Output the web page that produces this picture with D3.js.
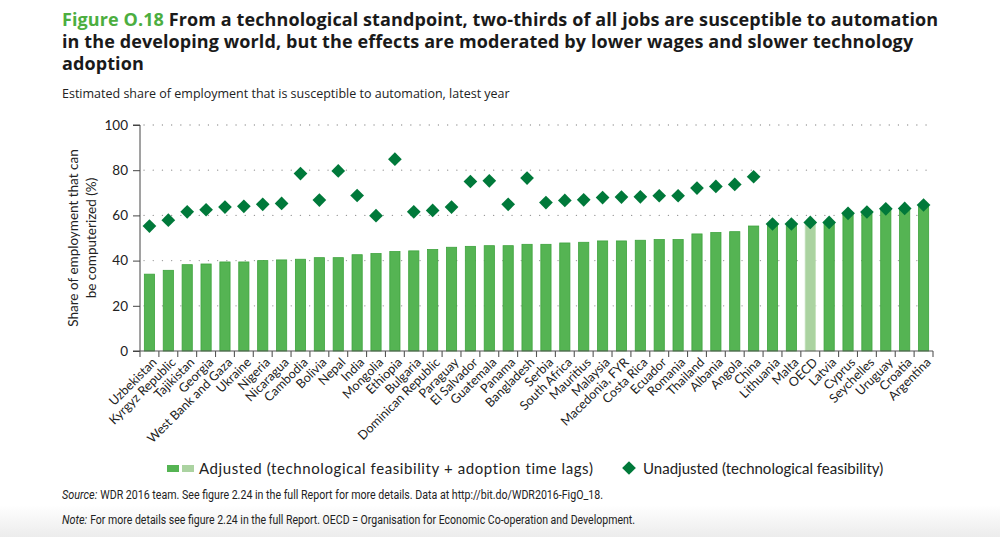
<!DOCTYPE html>
<html>
<head>
<meta charset="utf-8">
<script src="https://cdn.jsdelivr.net/npm/d3@7"></script>
<style>
  body { margin: 0; background: #fff; }
  svg { display: block; }
</style>
</head>
<body>
<svg id="fig" width="1000" height="537"></svg>
<script>

var countries = ['Uzbekistan', 'Kyrgyz Republic', 'Tajikistan', 'Georgia', 'West Bank and Gaza', 'Ukraine',
                 'Nigeria', 'Nicaragua', 'Cambodia', 'Bolivia', 'Nepal', 'India', 'Mongolia', 'Ethiopia',
                 'Bulgaria', 'Dominican Republic', 'Paraguay', 'El Salvador', 'Guatemala', 'Panama',
                 'Bangladesh', 'Serbia', 'South Africa', 'Mauritius', 'Malaysia', 'Macedonia, FYR',
                 'Costa Rica', 'Ecuador', 'Romania', 'Thailand', 'Albania', 'Angola', 'China', 'Lithuania',
                 'Malta', 'OECD', 'Latvia', 'Cyprus', 'Seychelles', 'Uruguay', 'Croatia', 'Argentina'];

var adjusted = [34.0, 35.7, 38.2, 38.5, 39.4, 39.4, 40.0, 40.3, 40.6, 41.3, 41.3, 42.6, 43.1, 44.0,
                44.3, 44.9, 45.9, 46.3, 46.6, 46.6, 47.2, 47.2, 47.8, 48.1, 48.7, 48.7, 49.0, 49.3,
                49.3, 51.8, 52.4, 52.8, 55.3, 56.2, 56.2, 56.6, 56.6, 60.9, 61.0, 62.8, 62.9, 64.3];

var unadjusted = [55.3, 57.9, 61.6, 62.5, 63.7, 64.0, 64.9, 65.3, 78.5, 66.8, 79.7, 68.8, 59.9, 84.9,
                  61.6, 62.2, 63.7, 75.0, 75.3, 64.9, 76.5, 65.7, 66.6, 66.9, 67.9, 68.1, 68.2, 68.7,
                  68.7, 72.1, 72.8, 73.7, 77.1, 56.2, 56.2, 56.9, 56.9, 60.9, 61.5, 62.9, 63.1, 64.6];

var yTicks = [0, 20, 40, 60, 80, 100];

var GREEN = '#55b453', GREEN_EDGE = '#3da33c', LIGHT = '#abd3a1', DARK = '#00793a';
var FONT = 'Lato, "DejaVu Sans", sans-serif';
var NARROW = '"Roboto", "Liberation Sans", sans-serif';

var svg = d3.select('#fig');

// footer shading
var grad = svg.append('defs').append('linearGradient').attr('id', 'foot').attr('x1', 0).attr('y1', 0).attr('x2', 0).attr('y2', 1);
grad.append('stop').attr('offset', '0%').attr('stop-color', '#ffffff');
grad.append('stop').attr('offset', '100%').attr('stop-color', '#ececec');
svg.append('rect').attr('x', 0).attr('y', 505).attr('width', 1000).attr('height', 32).attr('fill', 'url(#foot)');

// title, one text per line
var titleLines = ['  From a technological standpoint, two-thirds of all jobs are susceptible to automation',
                  'in the developing world, but the effects are moderated by lower wages and slower technology',
                  'adoption'];
titleLines.forEach(function(line, i){
    var t = svg.append('text').attr('x', 62).attr('y', 26 + 22 * i)
        .attr('font-family', '"Open Sans", sans-serif').attr('font-weight', 700)
        .attr('font-size', '18px').attr('letter-spacing', '0.1px').attr('fill', '#1a1a1a');
    if( i == 0 ) t.append('tspan').attr('fill', '#4cae3f').text('Figure O.18');
    t.append('tspan').text(line);
});

svg.append('text').attr('x', 62).attr('y', 98).attr('font-family', '"Open Sans", sans-serif')
    .attr('font-size', '12.5px').attr('fill', '#222')
    .text('Estimated share of employment that is susceptible to automation, latest year');

var margin = {left: 140, right: 67, top: 125, bottom: 186};
var W = 1000 - margin.left - margin.right, H = 537 - margin.top - margin.bottom;

var x = d3.scaleBand().domain(countries).range([0, W]).paddingInner(0.46).paddingOuter(0.23);
var y = d3.scaleLinear().domain([0, 100]).range([H, 0]);

var g = svg.append('g').attr('transform', 'translate(' + margin.left + ',' + margin.top + ')');

// dotted gridlines
g.selectAll('.grid').data(yTicks.slice(1)).enter().append('line')
    .attr('x1', 4).attr('x2', W).attr('y1', function(d){ return y(d); }).attr('y2', function(d){ return y(d); })
    .attr('stroke', '#9a9a9a').attr('stroke-width', 1.3).attr('stroke-linecap', 'round')
    .attr('stroke-dasharray', '0.1,9.1');

// bars
g.selectAll('.bar').data(countries).enter().append('rect')
    .attr('x', function(d){ return x(d); })
    .attr('y', function(d, i){ return y(adjusted[i]); })
    .attr('width', x.bandwidth())
    .attr('height', function(d, i){ return H - y(adjusted[i]); })
    .attr('fill', function(d){ return d == 'OECD' ? LIGHT : GREEN; })
    .attr('stroke', function(d){ return d == 'OECD' ? '#c2e0ba' : GREEN_EDGE; })
    .attr('stroke-width', 0.8);

// diamonds
var sym = d3.symbol().type(d3.symbolDiamond2).size(120);
g.selectAll('.dot').data(countries).enter().append('path')
    .attr('d', sym)
    .attr('transform', function(d, i){ return 'translate(' + (x(d) + x.bandwidth() / 2) + ',' + y(unadjusted[i]) + ')'; })
    .attr('fill', DARK);

// y axis
var yAxis = g.append('g').call(d3.axisLeft(y).tickValues(yTicks).tickSize(7).tickPadding(5));
yAxis.select('.domain').attr('stroke', '#444').attr('d', 'M-7,' + H + 'H0V0H-7');
yAxis.selectAll('.tick line').attr('stroke', '#444');
yAxis.selectAll('text').attr('font-family', FONT).attr('font-size', '13.5px').attr('fill', '#222');

// x axis: ticks between bands
var xg = g.append('g').attr('transform', 'translate(0,' + H + ')');
xg.append('line').attr('x1', 0).attr('x2', W).attr('stroke', '#555').attr('stroke-width', 1.2);
var step = x.step();
var bounds = d3.range(countries.length + 1);
xg.selectAll('.xt').data(bounds).enter().append('line')
    .attr('x1', function(i){ return i == countries.length ? W : x(countries[i]) - step * 0.23; })
    .attr('x2', function(i){ return i == countries.length ? W : x(countries[i]) - step * 0.23; })
    .attr('y1', 0).attr('y2', 6).attr('stroke', '#555').attr('stroke-width', 1.1);

xg.selectAll('.xl').data(countries).enter().append('text')
    .attr('transform', function(d){ return 'translate(' + (x(d) + x.bandwidth() / 2 + 5) + ',9) rotate(-45)'; })
    .attr('text-anchor', 'end').attr('dy', '0.35em')
    .attr('font-family', FONT).attr('font-size', '12.6px').attr('fill', '#222')
    .text(function(d){ return d; });

// y label
var yl = svg.append('text').attr('transform', 'translate(78,238) rotate(-90)')
    .attr('text-anchor', 'middle').attr('font-family', FONT).attr('font-size', '13.5px').attr('fill', '#222');
yl.append('tspan').attr('x', 0).attr('y', 0).text('Share of employment that can');
yl.append('tspan').attr('x', 0).attr('y', 18).text('be computerized (%)');

// legend
var lg = svg.append('g').attr('transform', 'translate(0,469)');
lg.append('rect').attr('x', 167).attr('y', -4).attr('width', 12).attr('height', 7).attr('fill', GREEN);
lg.append('rect').attr('x', 182).attr('y', -4).attr('width', 12).attr('height', 7).attr('fill', LIGHT);
lg.append('text').attr('x', 199).attr('y', 0).attr('dy', '0.35em').attr('font-family', FONT).attr('font-size', '15px')
    .attr('letter-spacing', '0.6px').attr('fill', '#222')
    .text('Adjusted (technological feasibility + adoption time lags)');
lg.append('path').attr('d', sym).attr('transform', 'translate(629,-1)').attr('fill', DARK);
lg.append('text').attr('x', 643).attr('y', 0).attr('dy', '0.35em').attr('font-family', FONT).attr('font-size', '15px')
    .attr('fill', '#222')
    .text('Unadjusted (technological feasibility)');

// notes: italic lead word, then condensed rest
function note( yy, lead, rest, endX ){
    var a = svg.append('text').attr('x', 62).attr('y', yy).attr('font-family', NARROW).attr('font-size', '12.5px')
        .attr('font-style', 'italic').attr('fill', '#222').attr('transform', 'translate(62,0) scale(0.87,1) translate(-62,0)')
        .text(lead);
    var w = a.node().getComputedTextLength() * 0.87;
    var x0 = 62 + w + 3;
    svg.append('text').attr('x', x0).attr('y', yy).attr('font-family', NARROW).attr('font-size', '12.5px')
        .attr('fill', '#222').attr('textLength', endX - x0).attr('lengthAdjust', 'spacingAndGlyphs')
        .text(rest);
}
note(499, 'Source:', 'WDR 2016 team. See figure 2.24 in the full Report for more details. Data at http://bit.do/WDR2016-FigO_18.', 603);
note(524, 'Note:', 'For more details see figure 2.24 in the full Report. OECD = Organisation for Economic Co-operation and Development.', 635);

</script>
</body>
</html>
